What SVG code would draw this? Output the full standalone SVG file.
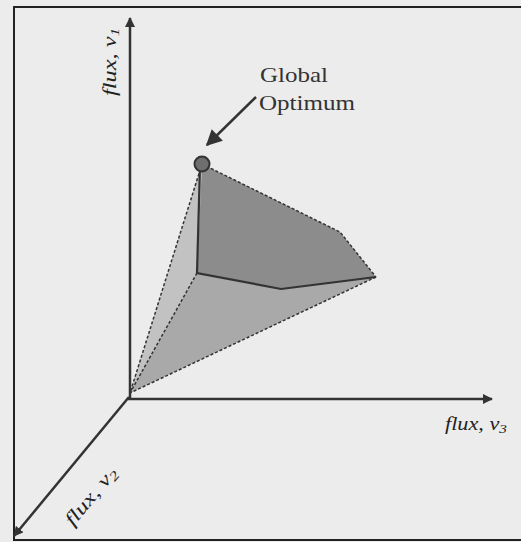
<svg xmlns="http://www.w3.org/2000/svg" width="521" height="542" viewBox="0 0 521 542">
<defs>
<marker id="ah" viewBox="0 0 10 10" refX="9" refY="5" markerWidth="10" markerHeight="10" markerUnits="userSpaceOnUse" orient="auto">
<path d="M0,0 L10,5 L0,10 z" fill="#333"/>
</marker>
<marker id="ah2" viewBox="0 0 10 10" refX="9" refY="5" markerWidth="20" markerHeight="16" markerUnits="userSpaceOnUse" orient="auto">
<path d="M0,0 L10,5 L0,10 z" fill="#333"/>
</marker>
<style>
.axis{stroke:#333;stroke-width:2.5;fill:none}
.lbl{font-family:"Liberation Serif",serif;font-style:italic;font-size:19px;fill:#222}
.sub{font-size:13px}
.txt{font-family:"Liberation Serif",serif;font-size:22px;fill:#333}
.dash{stroke:#333;stroke-width:1.5;stroke-dasharray:3,2;fill:none}
.solid{stroke:#333;stroke-width:2.2;fill:none}
</style>
</defs>
<rect x="0" y="0" width="521" height="542" fill="#ececec"/>
<path d="M521,7 H14 V540 H521" fill="none" stroke="#222" stroke-width="2"/>
<g id="polytope">
<polygon points="202,164 197,273 130,393" fill="#c2c2c2"/>
<polygon points="130,393 197,273 281,289 376,277" fill="#a9a9a9"/>
<polygon points="202,164 340,232 376,277 281,289 197,273" fill="#8c8c8c"/>
<path class="dash" d="M202,164 L130,393"/>
<path class="dash" d="M197,273 L130,393"/>
<path class="dash" d="M376,277 L130,393"/>
<path class="dash" d="M202,164 L340,232 L376,277"/>
<path class="solid" d="M200,166 L197,273 L281,289 L376,277"/>
</g>
<g id="connectors">
<line class="axis" x1="130" y1="398" x2="130" y2="18" marker-end="url(#ah)"/>
<line class="axis" x1="128" y1="399" x2="492" y2="399" marker-end="url(#ah)"/>
<line class="axis" x1="129" y1="397" x2="14" y2="536" marker-end="url(#ah)"/>
<line stroke="#333" stroke-width="2.5" x1="256" y1="97" x2="207" y2="145" marker-end="url(#ah2)"/>
</g>
<g id="optimum">
<circle cx="202" cy="164" r="7.5" fill="#6e6e6e" stroke="#333" stroke-width="2"/>
<text class="txt" x="260" y="82" textLength="68" lengthAdjust="spacingAndGlyphs">Global</text>
<text class="txt" x="259" y="110" textLength="96" lengthAdjust="spacingAndGlyphs">Optimum</text>
</g>
<g id="labels">
<text class="lbl" transform="translate(116,96) rotate(-90)" textLength="68" lengthAdjust="spacingAndGlyphs">flux, v<tspan class="sub" dy="3">1</tspan></text>
<text class="lbl" x="445" y="430" textLength="62" lengthAdjust="spacingAndGlyphs">flux, v<tspan class="sub" dy="3">3</tspan></text>
<text class="lbl" transform="translate(73,527) rotate(-50)" textLength="70" lengthAdjust="spacingAndGlyphs">flux, v<tspan class="sub" dy="3">2</tspan></text>
</g>
</svg>
